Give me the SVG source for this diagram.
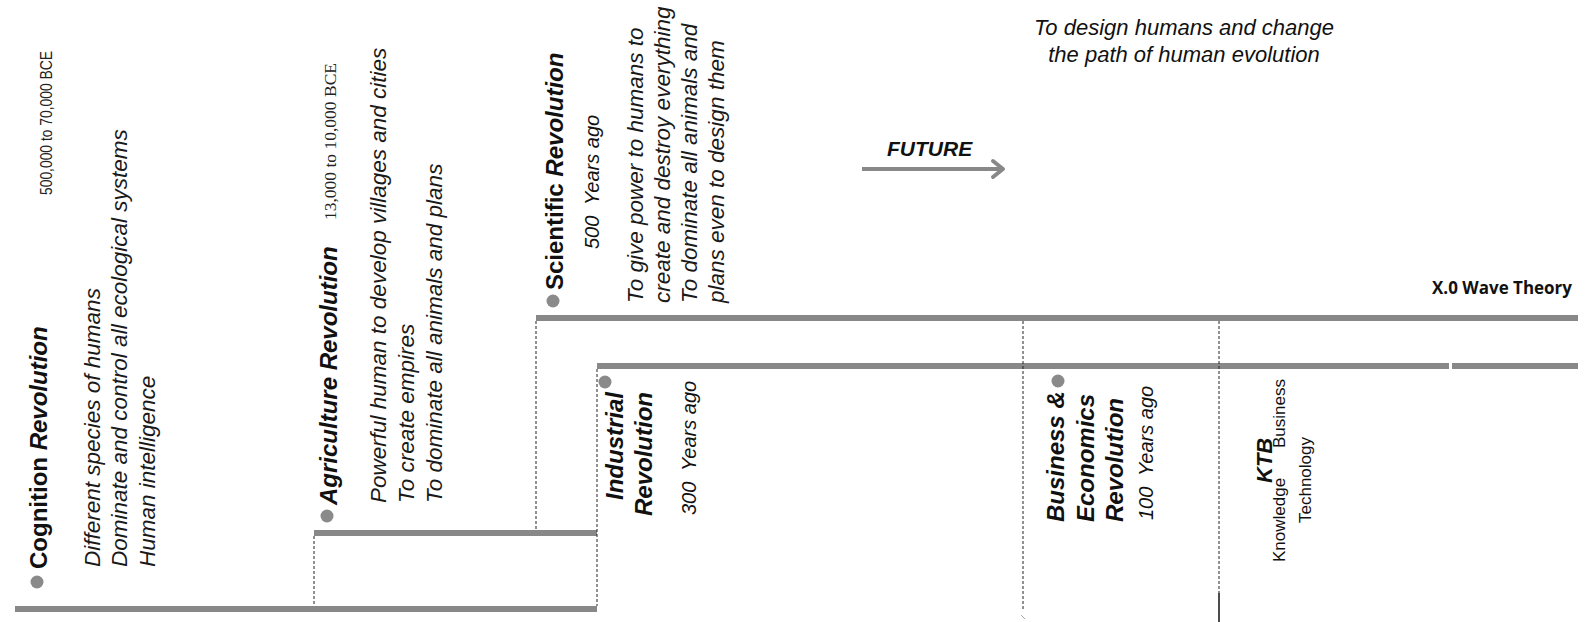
<svg xmlns="http://www.w3.org/2000/svg" width="1594" height="622" viewBox="0 0 1594 622">
<style>
text{font-family:"Liberation Sans",Arial,sans-serif;fill:#111}
.t{font-size:24px;font-weight:bold;font-style:italic}
.u{font-style:normal}
.d{font-size:22.5px;font-style:italic;fill:#1a1a1a}
.y{font-size:20px;font-style:italic}
.k{font-size:17px}
.bar{stroke:#888;stroke-width:6;fill:none}
.dash{stroke:#222;stroke-width:1;stroke-dasharray:3 2;fill:none}
.dot{fill:#8a8a8a}
</style>
<rect width="1594" height="622" fill="#fff"/>
<g id="connectors">
<line class="bar" x1="15" y1="609" x2="597" y2="609"/>
<line class="bar" x1="314" y1="533" x2="597" y2="533"/>
<line class="bar" x1="536" y1="318" x2="1578" y2="318"/>
<line class="bar" x1="597" y1="366" x2="1449" y2="366"/>
<line class="bar" x1="1452" y1="366" x2="1578" y2="366"/>
<line class="dash" x1="314" y1="536" x2="314" y2="606"/>
<line class="dash" x1="597" y1="369" x2="597" y2="606"/>
<line class="dash" x1="536" y1="321" x2="536" y2="530"/>
<line class="dash" x1="1023" y1="321" x2="1023" y2="611"/>
<line class="dash" x1="1219" y1="321" x2="1219" y2="593"/>
<line x1="1219" y1="593" x2="1219" y2="622" stroke="#111" stroke-width="1.5"/>
<line x1="1021" y1="615" x2="1025" y2="619" stroke="#aaa" stroke-width="1"/>
</g>
<g id="future">
<text x="887" y="156" style="font-size:21px;font-weight:bold;font-style:italic">FUTURE</text>
<line x1="862" y1="169" x2="1001" y2="169" stroke="#888" stroke-width="4"/>
<polyline points="993,161 1003,169 993,177" fill="none" stroke="#888" stroke-width="4" stroke-linecap="round" stroke-linejoin="round"/>
</g>
<g id="future-goal">
<text x="1184" y="35" text-anchor="middle" style="font-size:22px;font-style:italic">To design humans and change</text>
<text x="1184" y="62" text-anchor="middle" style="font-size:22px;font-style:italic">the path of human evolution</text>
</g>
<g id="x0-wave">
<text x="1572" y="294" text-anchor="end" style="font-family:'Open Sans',sans-serif;font-size:17px;font-weight:bold" textLength="140" lengthAdjust="spacingAndGlyphs">X.0 Wave Theory</text>
</g>
<g id="cognition">
<circle class="dot" cx="37" cy="582" r="6.5"/>
<text class="t" transform="translate(47,569) rotate(-90)"><tspan class="u">Cognition</tspan> Revolution</text>
<text transform="translate(52,195) rotate(-90)" style="font-size:16.5px;fill:#222" textLength="144" lengthAdjust="spacingAndGlyphs">500,000 to 70,000 BCE</text>
<text class="d" transform="translate(100,567) rotate(-90)">Different species of humans</text>
<text class="d" transform="translate(127,567) rotate(-90)">Dominate and control all ecological systems</text>
<text class="d" transform="translate(155,567) rotate(-90)">Human intelligence</text>
</g>
<g id="agriculture">
<circle class="dot" cx="327" cy="516" r="6.5"/>
<text class="t" transform="translate(337,505) rotate(-90)">Agriculture Revolution</text>
<text transform="translate(336,220) rotate(-90)" style="font-family:'Liberation Serif',serif;font-size:17.5px;fill:#222">13,000 to 10,000 BCE</text>
<text class="d" transform="translate(386,503) rotate(-90)">Powerful human to develop villages and cities</text>
<text class="d" transform="translate(414,503) rotate(-90)">To create empires</text>
<text class="d" transform="translate(442,503) rotate(-90)">To dominate all animals and plans</text>
</g>
<g id="scientific">
<circle class="dot" cx="553" cy="301" r="6.5"/>
<text class="t" transform="translate(563,290) rotate(-90)"><tspan class="u">Scientific</tspan> Revolution</text>
<text class="y" transform="translate(599,249) rotate(-90)" xml:space="preserve">500  Years ago</text>
<text class="d" transform="translate(643,303) rotate(-90)">To give power to humans to</text>
<text class="d" transform="translate(670,303) rotate(-90)">create and destroy everything</text>
<text class="d" transform="translate(697,303) rotate(-90)">To dominate all animals and</text>
<text class="d" transform="translate(724,303) rotate(-90)">plans even to design them</text>
</g>
<g id="industrial">
<circle class="dot" cx="605" cy="382" r="6.5"/>
<text class="t" text-anchor="end" transform="translate(623,392) rotate(-90)">Industrial</text>
<text class="t" text-anchor="end" transform="translate(652,392) rotate(-90)">Revolution</text>
<text class="y" transform="translate(696,515) rotate(-90)" xml:space="preserve">300  Years ago</text>
</g>
<g id="business">
<circle class="dot" cx="1058" cy="381" r="6.5"/>
<text class="t" transform="translate(1064,522) rotate(-90)">Business &amp;</text>
<text class="t" transform="translate(1094,522) rotate(-90)">Economics</text>
<text class="t" transform="translate(1123,522) rotate(-90)">Revolution</text>
<text class="y" transform="translate(1153,520) rotate(-90)" xml:space="preserve">100  Years ago</text>
</g>
<g id="ktb">
<text transform="translate(1272,483) rotate(-90)" style="font-size:22px;font-weight:bold;font-style:italic">KTB</text>
<text class="k" transform="translate(1285,562) rotate(-90)">Knowledge</text>
<text class="k" transform="translate(1285,448) rotate(-90)">Business</text>
<text class="k" transform="translate(1311,523) rotate(-90)">Technology</text>
</g>
</svg>
